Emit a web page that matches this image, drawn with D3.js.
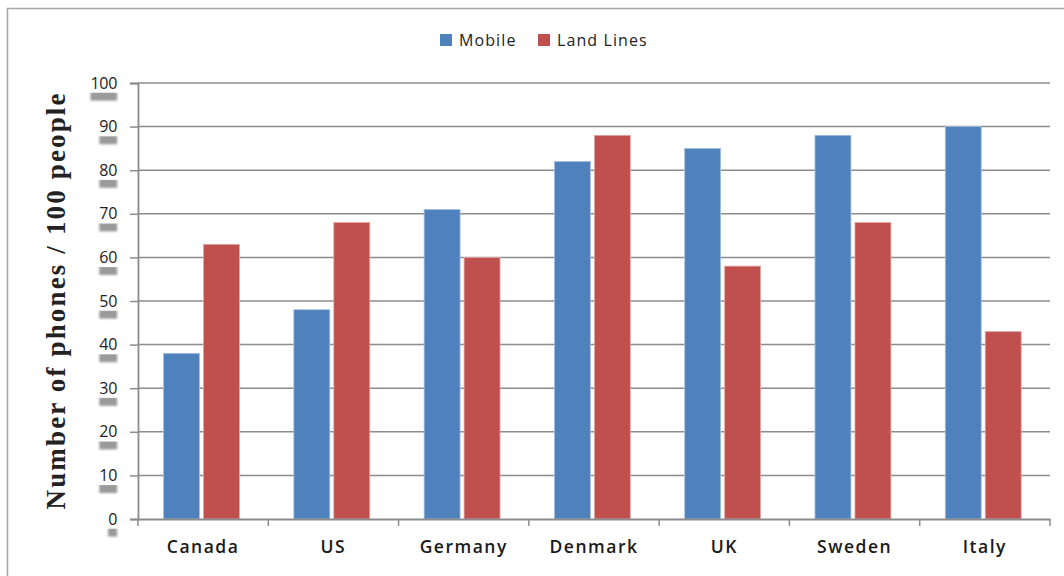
<!DOCTYPE html>
<html>
<head>
<meta charset="utf-8">
<script src="https://cdn.jsdelivr.net/npm/d3@7"></script>
<style>
  body { margin: 0; background: #fff; }
  svg { display: block; }
</style>
</head>
<body>
<svg id="chart" width="1064" height="576"></svg>
<script>
const countries = ["Canada", "US", "Germany", "Denmark", "UK", "Sweden", "Italy"];
const seriesNames = ["Mobile", "Land Lines"];
const mobile = [38, 48, 71, 82, 85, 88, 90];
const landLines = [63, 68, 60, 88, 58, 68, 43];
const yTicks = [0, 10, 20, 30, 40, 50, 60, 70, 80, 90, 100];
const colors = ["#4f81bd", "#c0504d"];

const svg = d3.select("#chart");
const width = 1064, height = 576;
const margin = { top: 83, right: 14, bottom: 57, left: 138 };
const sans = "'Open Sans', sans-serif";

// blur for the label shadows
const defs = svg.append("defs");
defs.append("filter").attr("id", "soft")
  .attr("x", "-50%").attr("y", "-50%").attr("width", "200%").attr("height", "200%")
  .append("feGaussianBlur").attr("stdDeviation", 1.3);

// outer frame (runs off the right/bottom edge like the original)
svg.append("rect")
  .attr("x", 7.5).attr("y", 8.5)
  .attr("width", width + 10).attr("height", height + 10)
  .attr("fill", "#fff").attr("stroke", "#a6a6a6").attr("stroke-width", 1.5);

const x0 = d3.scaleBand().domain(countries).range([margin.left, width - margin.right]);
const x1 = d3.scaleBand().domain(seriesNames).range([0, x0.bandwidth()])
  .paddingInner(0.1).paddingOuter(0.68).align(0.47);
const y = d3.scaleLinear().domain([0, 100]).range([height - margin.bottom, margin.top]);

// gridlines
svg.append("g")
  .selectAll("line")
  .data(yTicks.filter(d => d > 0))
  .join("line")
  .attr("x1", margin.left).attr("x2", width - margin.right)
  .attr("y1", d => y(d)).attr("y2", d => y(d))
  .attr("stroke", "#8c8c8c").attr("stroke-width", 1.5);

// bars
const rows = countries.map((c, i) => ({ country: c, values: [mobile[i], landLines[i]] }));
svg.append("g")
  .selectAll("g")
  .data(rows)
  .join("g")
  .attr("transform", d => `translate(${x0(d.country)},0)`)
  .selectAll("rect")
  .data(d => d.values.map((v, j) => ({ key: seriesNames[j], value: v, j })))
  .join("rect")
  .attr("x", d => x1(d.key))
  .attr("y", d => y(d.value))
  .attr("width", x1.bandwidth())
  .attr("height", d => y(0) - y(d.value))
  .attr("fill", d => colors[d.j])
  .attr("stroke", d => d.j === 0 ? "#a9c0e0" : "#e3a9a7")
  .attr("stroke-width", 0.8);

// x axis
const xAxis = svg.append("g")
  .attr("transform", `translate(0,${y(0)})`)
  .call(d3.axisBottom(x0).tickSize(0).tickPadding(22));
xAxis.select(".domain").attr("stroke", "#8c8c8c").attr("stroke-width", 1.8);
xAxis.selectAll("text")
  .attr("font-family", sans)
  .attr("font-size", 17.5).attr("font-weight", 600).attr("fill", "#1a1a1a")
  .attr("letter-spacing", 1.5);
svg.append("g")
  .selectAll("line")
  .data(countries.concat(["end"]))
  .join("line")
  .attr("x1", (d, i) => i < countries.length ? x0(d) : x0.range()[1])
  .attr("x2", (d, i) => i < countries.length ? x0(d) : x0.range()[1])
  .attr("y1", y(0)).attr("y2", y(0) + 7)
  .attr("stroke", "#8c8c8c").attr("stroke-width", 1.5);

// y axis
const yAxis = svg.append("g")
  .attr("transform", `translate(${margin.left},0)`)
  .call(d3.axisLeft(y).tickValues(yTicks).tickSize(8).tickPadding(13));
yAxis.select(".domain").attr("stroke", "#8c8c8c").attr("stroke-width", 1.8);
yAxis.selectAll(".tick line").attr("stroke", "#8c8c8c").attr("stroke-width", 1.5);
yAxis.selectAll(".tick text")
  .attr("font-family", sans)
  .attr("font-size", 16).attr("fill", "#222")
  .attr("letter-spacing", -0.3);
// shadow below each tick label
yAxis.selectAll(".tick").each(function () {
  const t = d3.select(this);
  const box = t.select("text").node().getBBox();
  t.insert("rect", "text")
    .attr("x", box.x).attr("y", box.y + box.height - 2)
    .attr("width", box.width).attr("height", 9)
    .attr("fill", "#9a9a9a").attr("filter", "url(#soft)");
  t.insert("rect", "text")
    .attr("x", box.x - 1).attr("y", box.y + 2)
    .attr("width", box.width + 2).attr("height", box.height - 3)
    .attr("fill", "#fff");
});

// y title
svg.append("text")
  .attr("transform", `translate(65,${(93 + 510) / 2}) rotate(-90)`)
  .attr("text-anchor", "middle")
  .attr("font-family", "'Liberation Serif', 'DejaVu Serif', serif")
  .attr("font-weight", "bold").attr("font-size", 27).attr("fill", "#222")
  .attr("textLength", 416).attr("lengthAdjust", "spacing")
  .text("Number of phones / 100 people");

// legend
const legend = svg.append("g").attr("transform", "translate(440,34)");
const legendX = [0, 98];
seriesNames.forEach((s, i) => {
  const g = legend.append("g").attr("transform", `translate(${legendX[i]},0)`);
  g.append("rect").attr("width", 12).attr("height", 12).attr("fill", colors[i]);
  g.append("text").attr("x", 19).attr("y", 12)
    .attr("font-family", sans)
    .attr("font-size", 16).attr("fill", "#222")
    .attr("letter-spacing", 1.1)
    .text(s);
});
</script>
</body>
</html>
